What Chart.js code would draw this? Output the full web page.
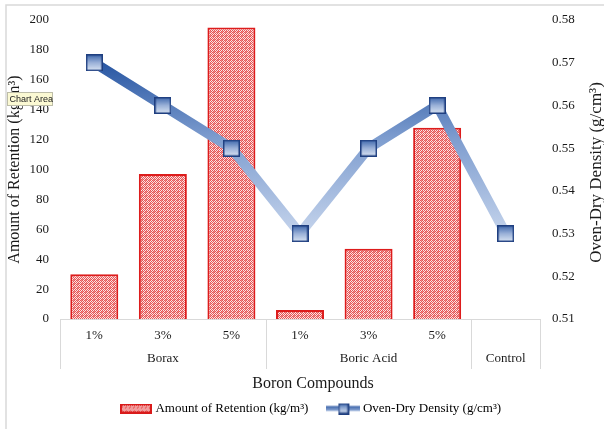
<!DOCTYPE html>
<html>
<head>
<meta charset="utf-8">
<script src="https://cdn.jsdelivr.net/npm/chart.js@4.4.1/dist/chart.umd.min.js"></script>
<style>
html,body{margin:0;padding:0;background:#fff;}
#wrap{position:relative;width:604px;height:429px;}
</style>
</head>
<body>
<div id="wrap"><canvas id="c" width="604" height="429"></canvas></div>
<script>
// ---- data ----
const subLabels = ['1%', '3%', '5%', '1%', '3%', '5%', ''];
const groupLabels = ['Borax', 'Borax', 'Borax', 'Boric Acid', 'Boric Acid', 'Boric Acid', 'Control'];
const retention = [30, 97, 195, 6, 47, 128, 0];
const density = [0.57, 0.56, 0.55, 0.53, 0.55, 0.56, 0.53];
const leftTicks = [0, 200, 20];
const rightTicks = [0.51, 0.58, 0.01];
const retentionName = 'Amount of Retention (kg/m\u00B3)';
const densityName = 'Oven-Dry Density (g/cm\u00B3)';
const xTitle = 'Boron Compounds';

const FONT = "'Liberation Serif', 'Times New Roman', serif";

function mkCanvas(w, h) { const c = document.createElement('canvas'); c.width = w; c.height = h; return c; }

// bar pattern
const pat = mkCanvas(4, 4);
{
  const p = pat.getContext('2d');
  p.fillStyle = '#FCE3E3'; p.fillRect(0, 0, 4, 4);
  p.fillStyle = '#E65555';
  [[0,0],[2,0],[1,1],[3,1],[0,2],[2,2],[1,3],[3,3]].forEach(([x,y]) => p.fillRect(x, y, 1, 1));
  p.fillStyle = '#F08A8A';
  p.fillRect(1,0,1,1); p.fillRect(2,3,1,1);
}
const barFill = document.getElementById('c').getContext('2d').createPattern(pat, 'repeat');

// marker
function marker(size) {
  const m = mkCanvas(size, size);
  const g = m.getContext('2d');
  const gr = g.createLinearGradient(0, 0, 0, size);
  gr.addColorStop(0, '#3A64AA'); gr.addColorStop(0.5, '#9AB1D8'); gr.addColorStop(1, '#DCE6F4');
  g.fillStyle = gr; g.fillRect(1, 1, size - 2, size - 2);
  g.strokeStyle = '#1F3F80'; g.lineWidth = 1.5; g.strokeRect(0.75, 0.75, size - 1.5, size - 1.5);
  return m;
}
const pointImg = marker(17);

// legend swatches
const legBar = mkCanvas(32, 10);
{
  const g = legBar.getContext('2d');
  g.fillStyle = g.createPattern(pat, 'repeat'); g.fillRect(1, 1, 30, 8);
  g.strokeStyle = '#D91A1A'; g.lineWidth = 2; g.strokeRect(1, 1, 30, 8);
}
const legLine = mkCanvas(34, 12);
{
  const g = legLine.getContext('2d');
  const gr = g.createLinearGradient(0, 3, 0, 9);
  gr.addColorStop(0, '#2F5AA3'); gr.addColorStop(1, '#9DB5DC');
  g.fillStyle = gr; g.fillRect(0, 3.5, 34, 5);
  const mk = marker(11);
  g.drawImage(mk, 11.5, 0.5);
}

const decor = {
  id: 'decor',
  afterLayout(chart) {
    if (chart.legend) chart.legend.left += 20;
  },
  beforeDraw(chart) {
    const c = chart.ctx;
    c.save();
    c.fillStyle = '#fff'; c.fillRect(0, 0, chart.width, chart.height);
    c.strokeStyle = '#D9D9D9'; c.lineWidth = 1.5;
    c.beginPath(); c.moveTo(6, chart.height); c.lineTo(6, 5); c.lineTo(chart.width, 5); c.stroke();
    c.restore();
  },
  afterDraw(chart) {
    const c = chart.ctx;
    const x = chart.scales.x, ca = chart.chartArea;
    const half = (x.getPixelForValue(1) - x.getPixelForValue(0)) / 2;
    c.save();
    // group separators
    c.strokeStyle = '#D9D9D9'; c.lineWidth = 1;
    const bottom = ca.bottom + 50;
    const bounds = [0];
    for (let i = 1; i < groupLabels.length; i++) if (groupLabels[i] !== groupLabels[i - 1]) bounds.push(i);
    bounds.push(groupLabels.length);
    bounds.forEach(i => {
      const px = Math.round(x.getPixelForValue(i) - half) + 0.5;
      c.beginPath(); c.moveTo(px, ca.bottom); c.lineTo(px, bottom); c.stroke();
    });
    // group labels
    c.fillStyle = '#1a1a1a'; c.font = '13px ' + FONT; c.textAlign = 'center'; c.textBaseline = 'middle';
    for (let b = 0; b < bounds.length - 1; b++) {
      const a = bounds[b], e = bounds[b + 1] - 1;
      const cx = (x.getPixelForValue(a) + x.getPixelForValue(e)) / 2;
      c.fillText(groupLabels[a], cx, ca.bottom + 40);
    }
    // x title
    c.font = '16px ' + FONT;
    c.fillText(xTitle, (ca.left + ca.right) / 2 + 13, ca.bottom + 65);
    // right title rotated
    c.font = '17px ' + FONT;
    c.translate(597, (ca.top + ca.bottom) / 2 + 3);
    c.rotate(-Math.PI / 2);
    c.fillText(densityName, 0, 0);
    c.restore();
    // Chart Area tooltip
    c.save();
    c.fillStyle = '#FBF9D3'; c.strokeStyle = '#BDBDA8'; c.lineWidth = 1;
    c.fillRect(7.5, 92.5, 45, 13); c.strokeRect(7.5, 92.5, 45, 13);
    c.fillStyle = '#222'; c.font = "9px 'Liberation Sans', Arial, sans-serif"; c.textAlign = 'left'; c.textBaseline = 'middle';
    c.fillText('Chart Area', 9.5, 99.5);
    c.restore();
  }
};

new Chart(document.getElementById('c'), {
  data: {
    labels: subLabels,
    datasets: [
      {
        type: 'line', label: densityName, data: density, yAxisID: 'y1', order: 0,
        borderWidth: 10,
        borderColor: (ctx) => {
          const ch = ctx.chart; const s = ch.scales.y1;
          if (!s || !ch.chartArea) return '#4472C4';
          const g = ch.ctx.createLinearGradient(0, s.getPixelForValue(0.572), 0, s.getPixelForValue(0.528));
          g.addColorStop(0, '#1F4F9E'); g.addColorStop(0.45, '#7E9DCF'); g.addColorStop(1, '#CAD8EE');
          return g;
        },
        pointStyle: pointImg, pointRadius: 9, pointHoverRadius: 9,
        tension: 0, fill: false
      },
      {
        type: 'bar', label: retentionName, data: retention, yAxisID: 'y', order: 1,
        backgroundColor: barFill, borderColor: '#DD1C1C', borderWidth: 2,
        barPercentage: 0.7, categoryPercentage: 1
      }
    ]
  },
  options: {
    responsive: false, animation: false,
    layout: { padding: { top: 20, left: 0, right: 0, bottom: 4 } },
    plugins: {
      tooltip: { enabled: false },
      legend: {
        position: 'bottom',
        labels: {
          usePointStyle: true, pointStyleWidth: 26, padding: 22,
          font: { family: FONT, size: 13 }, color: '#1a1a1a',
          generateLabels: () => [
            { text: retentionName, pointStyle: legBar, datasetIndex: 1, fillStyle: 'transparent', strokeStyle: 'transparent', lineWidth: 0 },
            { text: densityName, pointStyle: legLine, datasetIndex: 0, fillStyle: 'transparent', strokeStyle: 'transparent', lineWidth: 0 }
          ]
        }
      }
    },
    scales: {
      x: {
        offset: true,
        grid: { display: false, drawTicks: false },
        border: { display: true, color: '#D9D9D9', width: 1 },
        ticks: { font: { family: FONT, size: 13 }, color: '#1a1a1a', padding: 9, maxRotation: 0 },
        afterFit: (s) => { s.height = 61; }
      },
      y: {
        position: 'left', min: leftTicks[0], max: leftTicks[1],
        ticks: { stepSize: leftTicks[2], font: { family: FONT, size: 13 }, color: '#1a1a1a', padding: 11 },
        grid: { display: false, drawTicks: false },
        border: { display: false },
        title: { display: true, text: retentionName, font: { family: FONT, size: 16 }, color: '#1a1a1a', padding: { top: 5, bottom: 0 } },
        afterFit: (s) => { s.width = 60; }
      },
      y1: {
        position: 'right', min: rightTicks[0], max: rightTicks[1],
        ticks: { stepSize: rightTicks[2], font: { family: FONT, size: 13 }, color: '#1a1a1a', padding: 12, callback: v => Number(v).toFixed(2) },
        grid: { display: false, drawTicks: false },
        border: { display: false },
        afterFit: (s) => { s.width = 64; }
      }
    }
  },
  plugins: [decor]
});
</script>
</body>
</html>
